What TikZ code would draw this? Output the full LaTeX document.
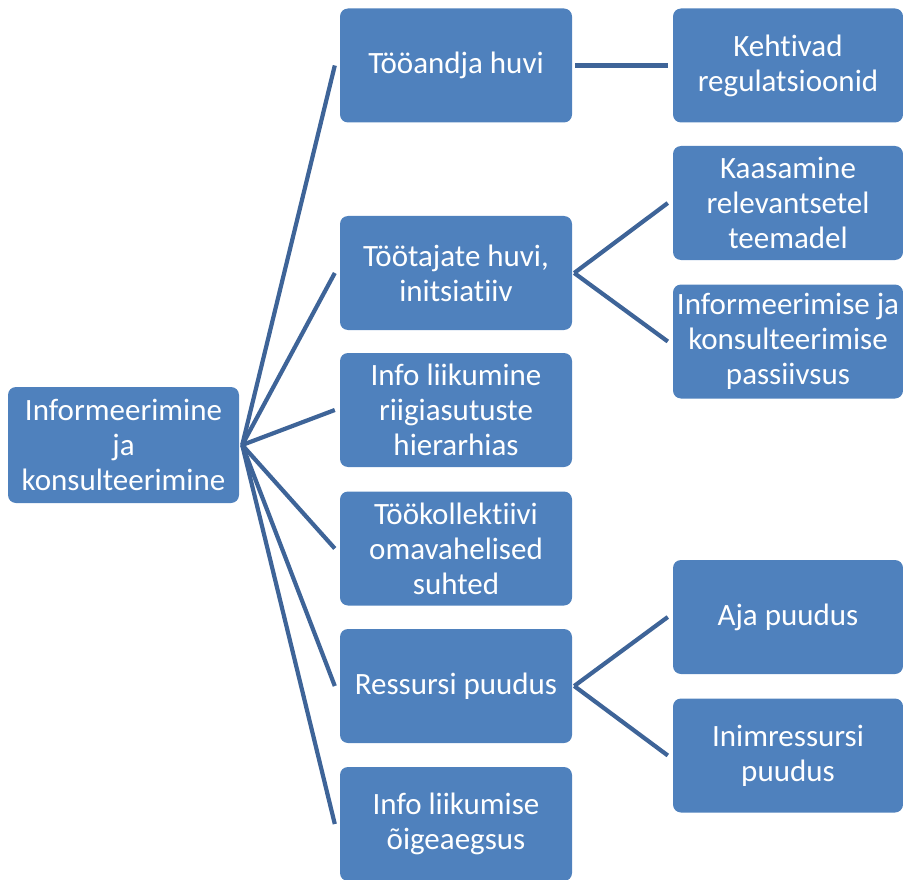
\documentclass[tikz,border=0pt]{standalone}
\usepackage{fontspec}
\setmainfont[Ligatures=NoCommon]{Carlito}
\definecolor{boxblue}{RGB}{79,129,189}
\definecolor{linkblue}{RGB}{62,100,152}
\begin{document}
\begin{tikzpicture}[x=1pt,y=-1pt,
  topic/.style={fill=boxblue, draw=none, rounded corners=8pt,
    minimum width=232pt, minimum height=114pt, inner sep=0pt,
    text=white, align=center, font=\fontsize{31}{35}\selectfont},
  link/.style={draw=linkblue, line width=4.2pt}]
\useasboundingbox (0,0) rectangle (903,880);

% root
\node[topic, minimum width=231pt, minimum height=116pt] (root) at (123.5,445) {Informeerimine\\ja\\konsulteerimine};

% middle column
\node[topic] (m1) at (456,65.5) {Tööandja huvi};
\node[topic] (m2) at (456,273) {Töötajate huvi,\\initsiatiiv};
\node[topic] (m3) at (456,410) {Info liikumine\\riigiasutuste\\hierarhias};
\node[topic] (m4) at (456,548.5) {Töökollektiivi\\omavahelised\\suhted};
\node[topic] (m5) at (456,686) {Ressursi puudus};
\node[topic] (m6) at (456,824) {Info liikumise\\õigeaegsus};

% right column
\node[topic, minimum width=230pt] (r1) at (788,65.5) {Kehtivad\\regulatsioonid};
\node[topic, minimum width=230pt] (r2) at (788,203) {Kaasamine\\relevantsetel\\teemadel};
\node[topic, minimum width=230pt] (r3) at (788,341.5) {Informeerimise ja\\konsulteerimise\\passiivsus};
\node[topic, minimum width=230pt] (r4) at (788,617) {Aja puudus};
\node[topic, minimum width=230pt] (r5) at (788,755.5) {Inimressursi\\puudus};

% connectors from the root
\foreach \m in {m1,m2,m3,m4,m5,m6}
  \draw[link] ([xshift=3pt]root.east) -- ([xshift=-5pt]\m.west);

% connectors to the right column
\draw[link] ([xshift=3pt]m1.east) -- ([xshift=-5pt]r1.west);
\draw[link] ([xshift=2pt]m2.east) -- ([xshift=-5pt]r2.west);
\draw[link] ([xshift=2pt]m2.east) -- ([xshift=-5pt]r3.west);
\draw[link] ([xshift=2pt]m5.east) -- ([xshift=-5pt]r4.west);
\draw[link] ([xshift=2pt]m5.east) -- ([xshift=-5pt]r5.west);
\end{tikzpicture}
\end{document}
